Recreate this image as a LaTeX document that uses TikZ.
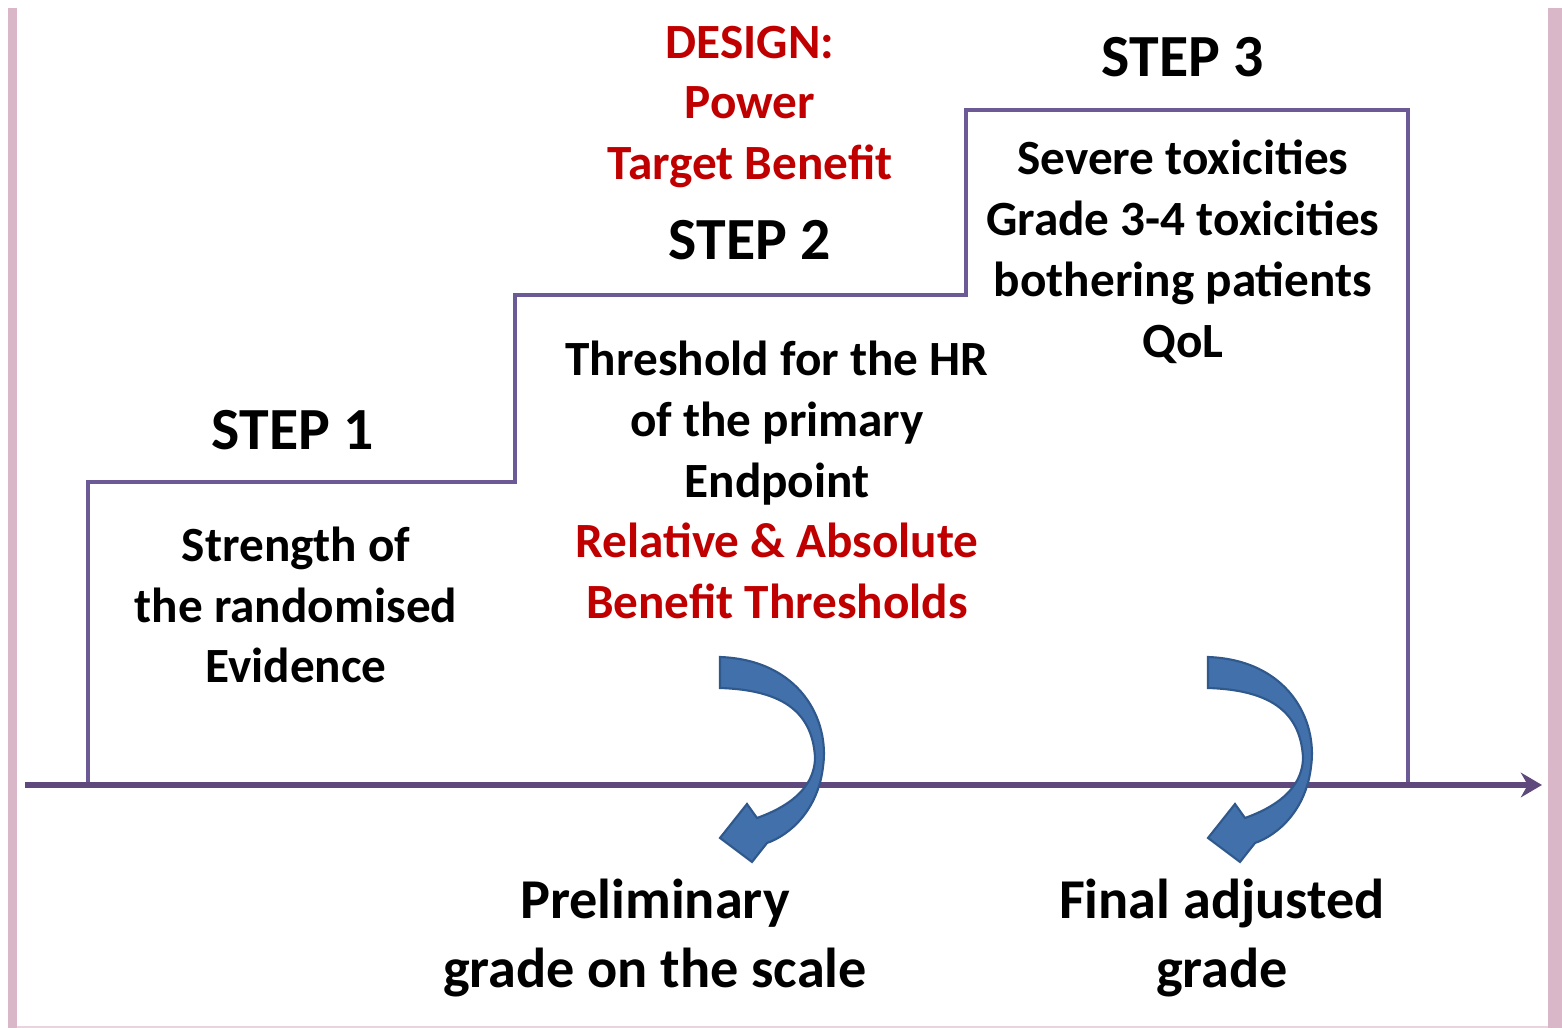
\documentclass[tikz,border=0pt]{standalone}
\usepackage{fontspec}
\setmainfont{Carlito}
\usetikzlibrary{arrows.meta}
\definecolor{axispurple}{RGB}{94,72,124}
\definecolor{steppurple}{RGB}{108,90,150}
\definecolor{barpink}{RGB}{217,183,201}
\definecolor{designred}{RGB}{192,0,0}
\definecolor{turnblue}{RGB}{66,112,170}
\definecolor{turnedge}{RGB}{47,88,140}
\tikzset{
  label text/.style={font=\bfseries\fontsize{14}{17.3}\selectfont, align=center, inner sep=0pt},
  step title/.style={font=\bfseries\fontsize{17}{20}\selectfont, inner sep=0pt},
  grade text/.style={font=\bfseries\fontsize{16}{19.8}\selectfont, align=center, inner sep=0pt},
  pics/turn arrow/.style={code={
    \fill[turnblue, draw=turnedge, line width=0.6pt] (0,0) .. controls (80,3) and (110,63) .. (103,110)
      .. controls (98,153) and (70,178) .. (47,186) -- (32,205) -- (0,181) -- (27,147) -- (37,161)
      .. controls (65,151) and (95,133) .. (95,100) .. controls (92,53) and (60,33) .. (0,31) -- cycle;
  }}
}
\begin{document}
\begin{tikzpicture}[x=0.01cm, y=-0.01cm]
    \useasboundingbox (0,0) rectangle (1562,1028);
    \fill[barpink] (8,8) rectangle (17,1028);
    \fill[barpink] (1548,8) rectangle (1562,1028);
    \draw[barpink!60, line width=0.5pt] (17,1027) -- (1548,1027);

    \coordinate (axisstart) at (25,785);
    \coordinate (axisend) at (1542,785);
    \coordinate (stepstart) at (88,785);
    \coordinate (riser1) at (515,482);
    \coordinate (riser2) at (966,295);
    \coordinate (top3) at (1408,110);
    \coordinate (stepend) at (1408,785);

    \draw[steppurple, line width=0.9pt] (stepstart) |- (riser1) |- (riser2) |- (top3) -- (stepend);
    \draw[axispurple, line width=1.5pt, -{Stealth[length=6pt, width=7pt]}] (axisstart) -- (axisend);

    \node[step title] (step1) at (293,430) {STEP 1};
    \node[step title] (step2) at (750,240) {STEP 2};
    \node[step title] (step3) at (1183,57) {STEP 3};
    \node[label text, text=designred] (design) at (750,107) {DESIGN:\\Power\\Target Benefit};
    \node[label text] (evidence) at (296,605) {Strength of\\the randomised\\Evidence};
    \node[label text] (threshold) at (777,480) {Threshold for the HR\\of the primary\\Endpoint\\
      \textcolor{designred}{Relative \& Absolute}\\\textcolor{designred}{Benefit Thresholds}};
    \node[label text] (toxicity) at (1183,252) {Severe toxicities\\Grade 3-4 toxicities\\bothering patients\\QoL};
    \node[grade text] (prelim) at (655,938) {Preliminary\\grade on the scale};
    \node[grade text] (final) at (1222,938) {Final adjusted\\grade};

    \pic (turnA) at (720,657) {turn arrow};
    \pic (turnB) at (1208,657) {turn arrow};
\end{tikzpicture}
\end{document}
